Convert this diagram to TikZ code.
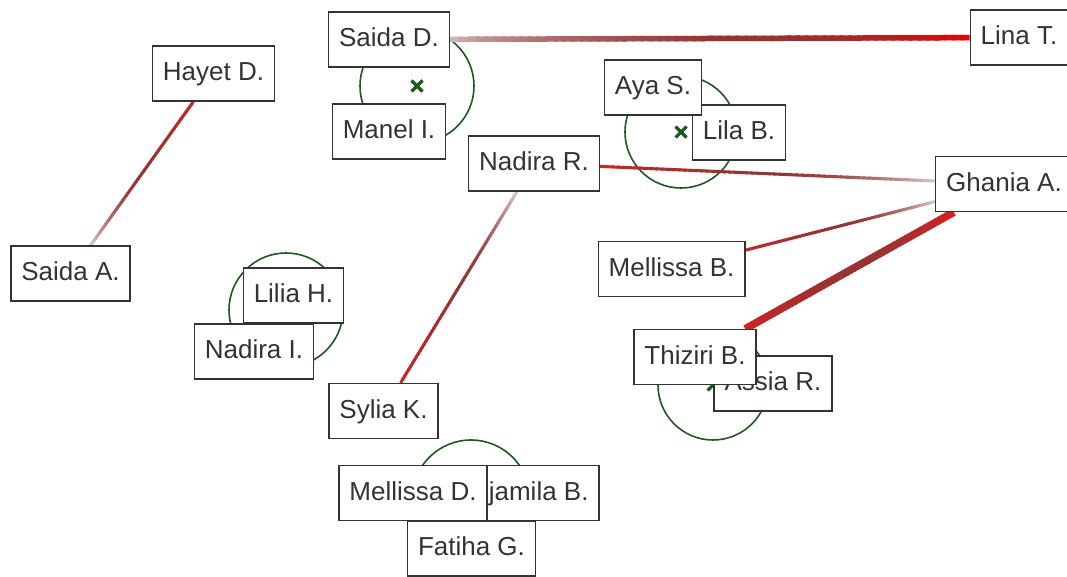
\documentclass[tikz,border=0pt]{standalone}
\usepackage{fontspec}
\setmainfont{Liberation Sans}
\usetikzlibrary{calc}
\pgfdeclarelayer{bg}
\pgfsetlayers{bg,main}
\definecolor{ink}{HTML}{333333}
\definecolor{ringgreen}{HTML}{1E5A1E}
\definecolor{pale}{RGB}{216,200,200}
\definecolor{dark}{RGB}{152,50,50}
\definecolor{hot}{RGB}{226,28,28}
\definecolor{vivid}{RGB}{236,0,0}

\tikzset{
  person/.style={draw=ink, fill=white, line width=1.3pt, text=ink,
    font=\fontsize{26}{30}\selectfont, minimum height=55pt,
    inner xsep=10.5pt, inner ysep=0pt, text height=19pt, text depth=5pt},
  ring/.style={draw=ringgreen, line width=1.6pt},
  cross/.style={draw=ringgreen, line width=3.2pt},
}

% a link whose colour runs through three stops from one node to the other
\newcommand\gradlink[6]{%
  \path (#1) -- (#2) coordinate[pos=0] (gs) coordinate[pos=1] (ge);
  \foreach \k in {0,...,59}{%
    \pgfmathsetmacro\ta{\k/60}%
    \pgfmathsetmacro\tb{min((\k+1.4)/60,1)}%
    \pgfmathsetmacro\tm{(\k+0.5)/60}%
    \ifdim\tm pt<0.5pt
      \pgfmathsetmacro\pc{100*sqrt(2*\tm)}%
      \colorlet{segc}{#5!\pc!#4}%
    \else
      \pgfmathsetmacro\pc{100*(2*\tm-1)^2}%
      \colorlet{segc}{#6!\pc!#5}%
    \fi
    \draw[line width=#3, draw=segc] ($(gs)!\ta!(ge)$) -- ($(gs)!\tb!(ge)$);
  }%
}

% a group marker: circle with a cross at its centre
\newcommand\groupring[3]{%
  \draw[ring] (#1,#2) circle[radius=#3];
  \draw[cross] (#1-5.5,#2-5.5) -- (#1+5.5,#2+5.5) (#1-5.5,#2+5.5) -- (#1+5.5,#2-5.5);
}

\begin{document}
\begin{tikzpicture}[x=1pt, y=-1pt]
\useasboundingbox (0,0) rectangle (1067,576);

% people
\node[person] (SaidaD)    at (389,39.5)   {Saida D.};
\node[person] (LinaT)     at (1019,37.5)  {Lina T.};
\node[person] (HayetD)    at (213.5,73.5) {Hayet D.};
\node[person] (ManelI)    at (389,131.5)  {Manel I.};
\node[person] (LilaB)     at (739,132.5)  {Lila B.};
\node[person] (AyaS)      at (653,87.5)   {Aya S.};
\node[person] (NadiraR)   at (534,163.5)  {Nadira R.};
\node[person] (GhaniaA)   at (1004,184)   {Ghania A.};
\node[person] (SaidaA)    at (70.5,273.5) {Saida A.};
\node[person] (MellissaB) at (671.5,269)  {Mellissa B.};
\node[person] (LiliaH)    at (293.5,295.5){Lilia H.};
\node[person] (NadiraI)   at (254,351.5)  {Nadira I.};
\node[person] (AssiaR)    at (773,383.5)  {Assia R.};
\node[person] (ThiziriB)  at (695,357)    {Thiziri B.};
\node[person] (SyliaK)    at (383.5,411)  {Sylia K.};
\node[person] (DjamilaB)  at (529.3,493)  {Djamila B.};
\node[person] (MellissaD) at (413,493)    {Mellissa D.};
\node[person] (FatihaG)   at (471.5,548.5){Fatiha G.};

\begin{pgfonlayer}{bg}
  % groups
  \groupring{417}{86}{57}
  \groupring{681}{132}{56}
  \groupring{286}{310}{57}
  \groupring{713}{385}{55}
  \groupring{471}{499}{59}

  % links
  \gradlink{SaidaD}{LinaT}{5.5pt}{pale}{dark}{vivid}
  \gradlink{HayetD}{SaidaA}{3pt}{hot}{dark}{pale}
  \gradlink{NadiraR}{GhaniaA}{3pt}{hot}{dark}{pale}
  \gradlink{MellissaB}{GhaniaA}{3pt}{hot}{dark}{pale}
  \gradlink{ThiziriB}{GhaniaA}{7.5pt}{hot}{dark}{hot}
  \gradlink{SyliaK}{NadiraR}{3pt}{hot}{dark}{pale}
\end{pgfonlayer}
\end{tikzpicture}
\end{document}
